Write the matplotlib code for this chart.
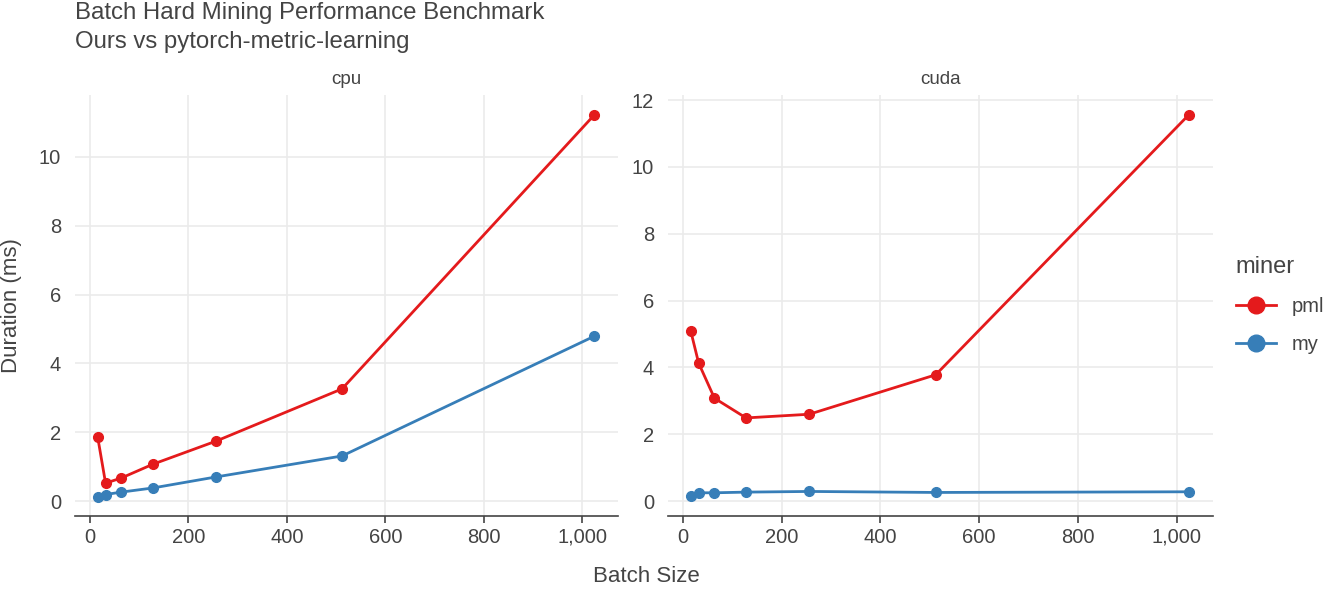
import matplotlib.pyplot as plt
from matplotlib.ticker import FuncFormatter
from matplotlib.lines import Line2D

plt.rcParams['font.family'] = ['Liberation Sans', 'DejaVu Sans']

batch = [16, 32, 64, 128, 256, 512, 1024]
cpu_pml = [1.86, 0.52, 0.67, 1.07, 1.74, 3.26, 11.22]
cpu_my = [0.12, 0.19, 0.26, 0.38, 0.70, 1.31, 4.79]
cuda_pml = [5.09, 4.13, 3.08, 2.49, 2.60, 3.78, 11.55]
cuda_my = [0.14, 0.25, 0.25, 0.27, 0.29, 0.26, 0.28]

red = '#e41a1c'
blue = '#377eb8'
txt = '#444444'
grid = '#ebebeb'

fig = plt.figure(figsize=(13.35, 5.94), dpi=100)
ax1 = fig.add_axes([0.0562, 0.131, 0.407, 0.709])
ax2 = fig.add_axes([0.5004, 0.131, 0.408, 0.709])

panels = [(ax1, 'cpu', cpu_pml, cpu_my, (-0.44, 11.8), [0, 2, 4, 6, 8, 10]),
          (ax2, 'cuda', cuda_pml, cuda_my, (-0.45, 12.15), [0, 2, 4, 6, 8, 10, 12])]

for ax, name, pml, my, ylim, yt in panels:
    ax.plot(batch, pml, color=red, lw=2, marker='o', ms=7, zorder=3)
    ax.plot(batch, my, color=blue, lw=2, marker='o', ms=7, zorder=3)
    ax.set_xlim(-30, 1073)
    ax.set_ylim(*ylim)
    ax.set_xticks([0, 200, 400, 600, 800, 1000])
    ax.set_yticks(yt)
    ax.xaxis.set_major_formatter(FuncFormatter(lambda v, p: f'{int(v):,}'))
    ax.grid(True, color=grid, lw=1.2)
    ax.set_axisbelow(True)
    for s in ['top', 'right', 'left']:
        ax.spines[s].set_visible(False)
    ax.spines['bottom'].set_color(txt)
    ax.spines['bottom'].set_linewidth(1.2)
    ax.tick_params(axis='x', colors=txt, labelsize=14.5, length=5, width=1.2, direction='out')
    ax.tick_params(axis='y', colors=txt, labelsize=14.5, length=0, pad=10)
    ax.set_title(name, color=txt, fontsize=13.5, pad=8)

ax1.set_ylabel('Duration (ms)', color=txt, fontsize=16, labelpad=12)
fig.text(0.484, 0.03, 'Batch Size', color=txt, fontsize=16, ha='center', va='center')

fig.text(0.0562, 0.978, 'Batch Hard Mining Performance Benchmark', color=txt, fontsize=17.3, va='center')
fig.text(0.0562, 0.930, 'Ours vs pytorch-metric-learning', color=txt, fontsize=17.3, va='center')

handles = [Line2D([], [], color=red, lw=2, marker='o', ms=12),
           Line2D([], [], color=blue, lw=2, marker='o', ms=12)]
leg = fig.legend(handles, ['pml', 'my'], title='miner', loc='upper left',
                 bbox_to_anchor=(0.912, 0.6), frameon=False, fontsize=14.5,
                 title_fontsize=17, handlelength=2.0, labelspacing=0.95,
                 alignment='left')
leg._legend_box.sep = 14
for t in leg.get_texts():
    t.set_color(txt)
leg.get_title().set_color(txt)

fig.savefig('out.png', dpi=100)
